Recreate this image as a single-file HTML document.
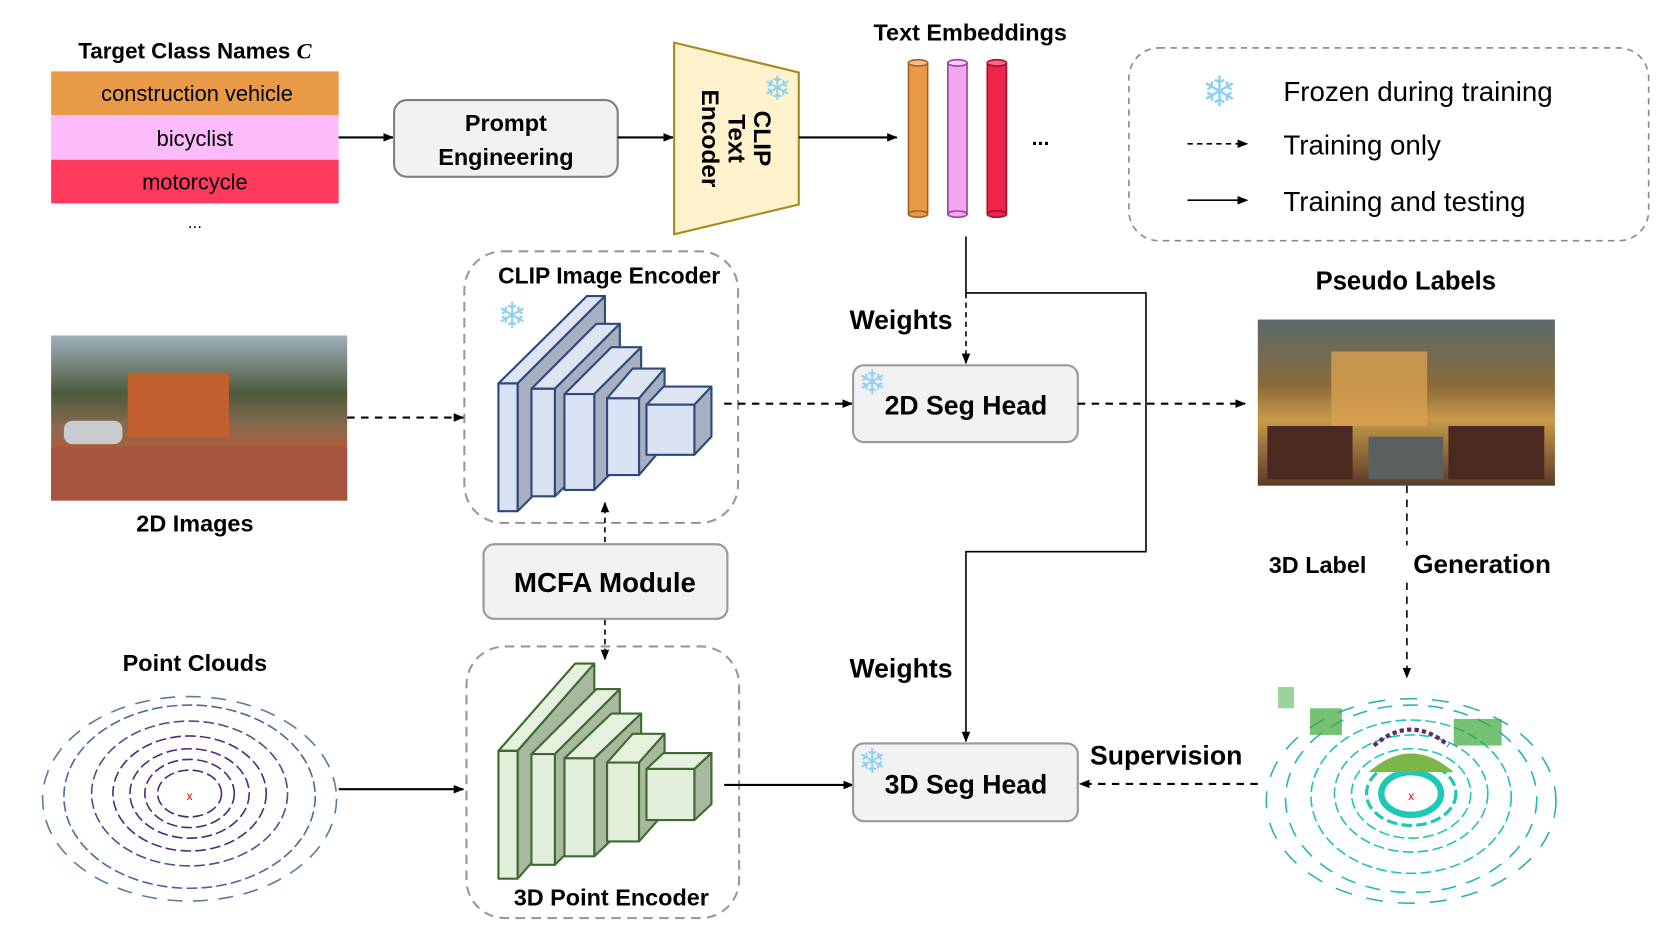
<!DOCTYPE html>
<html><head><meta charset="utf-8"><style>
html,body{margin:0;padding:0;background:#fff;}
svg{display:block;}
text{font-family:"Liberation Sans",sans-serif;}
.b{font-weight:bold;}
</style></head><body>
<svg width="1661" height="933" viewBox="0 0 1559.6 876" preserveAspectRatio="none" xmlns="http://www.w3.org/2000/svg">
<defs>
<marker id="ah" markerWidth="10" markerHeight="10" refX="9" refY="5" orient="auto" markerUnits="userSpaceOnUse">
<path d="M0,1 L10,5 L0,9 Z" fill="#000"/></marker>
<linearGradient id="img2d" x1="0" y1="0" x2="0" y2="1">
<stop offset="0" stop-color="#9fb0bd"/><stop offset="0.35" stop-color="#4d5a3c"/><stop offset="0.55" stop-color="#8a6a50"/><stop offset="0.7" stop-color="#b15b35"/><stop offset="1" stop-color="#8c4a38"/></linearGradient>
<linearGradient id="imgps" x1="0" y1="0" x2="0" y2="1">
<stop offset="0" stop-color="#5a6a6a"/><stop offset="0.4" stop-color="#8a6a3a"/><stop offset="0.6" stop-color="#c89a4a"/><stop offset="1" stop-color="#5a3a2a"/></linearGradient>
</defs>

<!-- Target class names -->
<text x="183" y="55" text-anchor="middle" font-size="21" class="b">Target Class Names <tspan font-style="italic" font-family="Liberation Serif">C</tspan></text>
<rect x="48" y="67" width="270" height="41" fill="#e99a47"/>
<rect x="48" y="108" width="270" height="42" fill="#fcbcfb"/>
<rect x="48" y="150" width="270" height="41" fill="#fd3a5e"/>
<text x="185" y="95" text-anchor="middle" font-size="20.5">construction vehicle</text>
<text x="183" y="137" text-anchor="middle" font-size="20.5">bicyclist</text>
<text x="183" y="178" text-anchor="middle" font-size="20.5">motorcycle</text>
<text x="183" y="214" text-anchor="middle" font-size="16">...</text>

<line x1="318" y1="129" x2="369" y2="129" stroke="#000" stroke-width="2" marker-end="url(#ah)"/>
<rect x="370" y="94" width="210" height="72" rx="12" fill="#f2f2f2" stroke="#808080" stroke-width="2"/>
<text x="475" y="123" text-anchor="middle" font-size="22" class="b">Prompt</text>
<text x="475" y="155" text-anchor="middle" font-size="22" class="b">Engineering</text>
<line x1="580" y1="129" x2="632" y2="129" stroke="#000" stroke-width="2" marker-end="url(#ah)"/>

<!-- CLIP text encoder trapezoid -->
<polygon points="633,40 750,68 750,192 633,220" fill="#fff2cc" stroke="#a88a1e" stroke-width="2"/>
<g transform="translate(690,130) rotate(90)">
<text x="0" y="-18" text-anchor="middle" font-size="23" class="b">CLIP</text>
<text x="0" y="6" text-anchor="middle" font-size="23" class="b">Text</text>
<text x="0" y="31" text-anchor="middle" font-size="23" class="b">Encoder</text>
</g>
<text x="730" y="94" text-anchor="middle" font-size="32" fill="#8fd0f5">❄</text>
<line x1="750" y1="129" x2="842" y2="129" stroke="#000" stroke-width="2" marker-end="url(#ah)"/>

<!-- Text embeddings -->
<text x="911" y="38" text-anchor="middle" font-size="22" class="b">Text Embeddings</text>
<g stroke-width="1.5">
<rect x="853" y="59" width="18" height="142" fill="#e99a47" stroke="#a0602a"/>
<ellipse cx="862" cy="59" rx="9" ry="3" fill="#f4bf85" stroke="#a0602a"/>
<ellipse cx="862" cy="201" rx="9" ry="3" fill="#e99a47" stroke="#a0602a"/>
<rect x="890" y="59" width="18" height="142" fill="#f2a6f2" stroke="#9a40a0"/>
<ellipse cx="899" cy="59" rx="9" ry="3" fill="#fcd0fb" stroke="#9a40a0"/>
<ellipse cx="899" cy="201" rx="9" ry="3" fill="#f2a6f2" stroke="#9a40a0"/>
<rect x="927" y="59" width="18" height="142" fill="#ef2448" stroke="#a01030"/>
<ellipse cx="936" cy="59" rx="9" ry="3" fill="#f76a84" stroke="#a01030"/>
<ellipse cx="936" cy="201" rx="9" ry="3" fill="#ef2448" stroke="#a01030"/>
</g>
<text x="977" y="136" text-anchor="middle" font-size="20" class="b">...</text>

<!-- Legend -->
<rect x="1060" y="45" width="488" height="181" rx="28" fill="none" stroke="#888" stroke-width="1.5" stroke-dasharray="6,5"/>
<text x="1145" y="100" text-anchor="middle" font-size="40" fill="#8fd0f5">❄</text>
<text x="1205" y="95" font-size="26">Frozen during training</text>
<line x1="1115" y1="135" x2="1171" y2="135" stroke="#000" stroke-width="1.5" stroke-dasharray="5,4" marker-end="url(#ah)"/>
<text x="1205" y="145" font-size="26">Training only</text>
<line x1="1115" y1="188" x2="1171" y2="188" stroke="#000" stroke-width="1.5" marker-end="url(#ah)"/>
<text x="1205" y="198" font-size="26">Training and testing</text>

<!-- CLIP Image Encoder -->
<rect x="436" y="236" width="257" height="255" rx="36" fill="none" stroke="#999" stroke-width="2" stroke-dasharray="9,6"/>
<text x="572" y="266" text-anchor="middle" font-size="21.5" class="b">CLIP Image Encoder</text>
<text x="481" y="308" text-anchor="middle" font-size="34" fill="#8fd0f5">❄</text>
<g stroke="#2f4a7a" stroke-width="2" stroke-linejoin="round">
<polygon points="468,360 551,278 568,278 486,360" fill="#dde5f3"/>
<polygon points="486,360 568,278 568,398 486,480" fill="#a6b0c0"/>
<rect x="468" y="360" width="18" height="120" fill="#dae3f3"/>
<polygon points="499,365 560,304 582,304 521,365" fill="#dde5f3"/>
<polygon points="521,365 582,304 582,405 521,466" fill="#a6b0c0"/>
<rect x="499" y="365" width="22" height="101" fill="#dae3f3"/>
<polygon points="530,370 574,326 602,326 558,370" fill="#dde5f3"/>
<polygon points="558,370 602,326 602,416 558,460" fill="#a6b0c0"/>
<rect x="530" y="370" width="28" height="90" fill="#dae3f3"/>
<polygon points="570,374 594,346 624,346 600,374" fill="#dde5f3"/>
<polygon points="600,374 624,346 624,418 600,446" fill="#a6b0c0"/>
<rect x="570" y="374" width="30" height="72" fill="#dae3f3"/>
<polygon points="607,380 623,363 668,363 652,380" fill="#dde5f3"/>
<polygon points="652,380 668,363 668,410 652,427" fill="#a6b0c0"/>
<rect x="607" y="380" width="45" height="47" fill="#dae3f3"/>
</g>

<!-- 2D image -->
<rect x="48" y="315" width="278" height="155" fill="url(#img2d)"/>
<rect x="120" y="350" width="95" height="60" fill="#c0602f"/>
<rect x="48" y="420" width="278" height="50" fill="#a65440"/>
<rect x="60" y="395" width="55" height="22" rx="8" fill="#c8ccd0"/>
<text x="183" y="499" text-anchor="middle" font-size="22" class="b">2D Images</text>
<line x1="326" y1="392" x2="435" y2="392" stroke="#000" stroke-width="2" stroke-dasharray="7,6" marker-end="url(#ah)"/>

<line x1="680" y1="379" x2="800" y2="379" stroke="#000" stroke-width="2" stroke-dasharray="7,6" marker-end="url(#ah)"/>
<rect x="801" y="343" width="211" height="72" rx="10" fill="#f2f2f2" stroke="#999" stroke-width="2"/>
<text x="907" y="389" text-anchor="middle" font-size="25" class="b">2D Seg Head</text>
<text x="819" y="370" text-anchor="middle" font-size="32" fill="#8fd0f5">❄</text>

<!-- weights lines -->
<polyline points="907,222 907,275 1076,275 1076,518 907,518 907,696" fill="none" stroke="#000" stroke-width="1.5" marker-end="url(#ah)"/>
<line x1="907" y1="275" x2="907" y2="341" stroke="#000" stroke-width="1.5" stroke-dasharray="5,4" marker-end="url(#ah)"/>
<text x="846" y="309" text-anchor="middle" font-size="25" class="b">Weights</text>
<text x="846" y="636" text-anchor="middle" font-size="25" class="b">Weights</text>

<!-- Pseudo labels -->
<text x="1320" y="272" text-anchor="middle" font-size="24" class="b">Pseudo Labels</text>
<rect x="1181" y="300" width="279" height="156" fill="url(#imgps)"/>
<rect x="1250" y="330" width="90" height="70" fill="#d8a050" opacity="0.8"/>
<rect x="1190" y="400" width="80" height="50" fill="#4a2a20"/>
<rect x="1360" y="400" width="90" height="50" fill="#4a2a20"/>
<rect x="1285" y="410" width="70" height="40" fill="#5a6060"/>
<line x1="1012" y1="379" x2="1169" y2="379" stroke="#000" stroke-width="2" stroke-dasharray="7,6" marker-end="url(#ah)"/>
<line x1="1321" y1="456" x2="1321" y2="636" stroke="#000" stroke-width="1.5" stroke-dasharray="7,6" marker-end="url(#ah)"/>
<rect x="1285" y="512" width="40" height="30" fill="#fff"/>
<text x="1283" y="538" text-anchor="end" font-size="22" class="b">3D Label</text>
<text x="1327" y="538" font-size="24.5" class="b">Generation</text>

<!-- MCFA -->
<rect x="454" y="511" width="229" height="70" rx="10" fill="#f2f2f2" stroke="#999" stroke-width="2"/>
<text x="568" y="556" text-anchor="middle" font-size="26" class="b">MCFA Module</text>
<line x1="568" y1="509" x2="568" y2="472" stroke="#000" stroke-width="1.5" stroke-dasharray="5,4" marker-end="url(#ah)"/>
<line x1="568" y1="582" x2="568" y2="619" stroke="#000" stroke-width="1.5" stroke-dasharray="5,4" marker-end="url(#ah)"/>

<!-- 3D Point encoder -->
<rect x="438" y="607" width="256" height="255" rx="36" fill="none" stroke="#999" stroke-width="2" stroke-dasharray="9,6"/>
<text x="574" y="850" text-anchor="middle" font-size="22" class="b">3D Point Encoder</text>
<g stroke="#3d6b2f" stroke-width="2" stroke-linejoin="round">
<polygon points="468,705 540,623 558,623 486,705" fill="#e6f0df"/>
<polygon points="486,705 558,623 558,743 486,825" fill="#a9b9a0"/>
<rect x="468" y="705" width="18" height="120" fill="#e2efda"/>
<polygon points="499,708 560,647 582,647 521,708" fill="#e6f0df"/>
<polygon points="521,708 582,647 582,751 521,812" fill="#a9b9a0"/>
<rect x="499" y="708" width="22" height="104" fill="#e2efda"/>
<polygon points="530,712 574,670 602,670 558,712" fill="#e6f0df"/>
<polygon points="558,712 602,670 602,762 558,804" fill="#a9b9a0"/>
<rect x="530" y="712" width="28" height="92" fill="#e2efda"/>
<polygon points="570,716 594,689 624,689 600,716" fill="#e6f0df"/>
<polygon points="600,716 624,689 624,763 600,790" fill="#a9b9a0"/>
<rect x="570" y="716" width="30" height="74" fill="#e2efda"/>
<polygon points="607,722 623,707 668,707 652,722" fill="#e6f0df"/>
<polygon points="652,722 668,707 668,755 652,770" fill="#a9b9a0"/>
<rect x="607" y="722" width="45" height="48" fill="#e2efda"/>
</g>

<!-- Point clouds -->
<text x="183" y="630" text-anchor="middle" font-size="22" class="b">Point Clouds</text>
<g fill="none" stroke="#4a2a7a" stroke-width="1.5" stroke-dasharray="10,4">
<ellipse cx="178" cy="745" rx="30" ry="22"/>
<ellipse cx="178" cy="745" rx="42" ry="32"/>
<ellipse cx="178" cy="745" rx="56" ry="42"/>
<ellipse cx="178" cy="745" rx="72" ry="54"/>
<ellipse cx="178" cy="745" rx="92" ry="68" stroke="#5a4a8a"/>
<ellipse cx="178" cy="748" rx="118" ry="86" stroke="#4a6a9a"/>
<ellipse cx="178" cy="750" rx="138" ry="96" stroke="#5a7aa0" stroke-dasharray="14,10"/>
</g>
<ellipse cx="178" cy="745" rx="22" ry="16" fill="#fff"/>
<text x="178" y="751" text-anchor="middle" font-size="11" fill="#e00">x</text>
<line x1="318" y1="741" x2="435" y2="741" stroke="#000" stroke-width="2" marker-end="url(#ah)"/>

<line x1="680" y1="737" x2="801" y2="737" stroke="#000" stroke-width="2" marker-end="url(#ah)"/>
<rect x="801" y="698" width="211" height="73" rx="10" fill="#f2f2f2" stroke="#999" stroke-width="2"/>
<text x="907" y="745" text-anchor="middle" font-size="25" class="b">3D Seg Head</text>
<text x="819" y="726" text-anchor="middle" font-size="32" fill="#8fd0f5">❄</text>
<text x="1095" y="718" text-anchor="middle" font-size="25" class="b">Supervision</text>
<line x1="1181" y1="736" x2="1014" y2="736" stroke="#000" stroke-width="2" stroke-dasharray="7,6" marker-end="url(#ah)"/>

<!-- colored point cloud -->
<g fill="none" stroke-width="1.5" stroke-dasharray="10,4">
<ellipse cx="1325" cy="745" rx="28" ry="20" stroke="#1cc8b8" stroke-width="6" stroke-dasharray="none"/>
<ellipse cx="1325" cy="745" rx="42" ry="30" stroke="#1cc8b8" stroke-width="3"/>
<ellipse cx="1325" cy="745" rx="56" ry="42" stroke="#1cc8b8"/>
<ellipse cx="1325" cy="745" rx="72" ry="55" stroke="#20c0c0"/>
<ellipse cx="1325" cy="748" rx="94" ry="72" stroke="#20c0c0"/>
<ellipse cx="1325" cy="750" rx="118" ry="88" stroke="#20b8c0" stroke-dasharray="14,10"/>
<ellipse cx="1325" cy="752" rx="136" ry="96" stroke="#30b0b0" stroke-dasharray="16,14"/>
</g>
<path d="M1285,725 Q1325,690 1365,725 Z" fill="#7ab648"/>
<path d="M1290,700 Q1325,670 1360,700" fill="none" stroke="#5a2a6a" stroke-width="4" stroke-dasharray="4,3"/>
<g fill="#3aa83a"><rect x="1230" y="665" width="30" height="25" opacity="0.7"/><rect x="1365" y="675" width="45" height="25" opacity="0.7"/><rect x="1200" y="645" width="15" height="20" opacity="0.5"/></g>
<ellipse cx="1325" cy="745" rx="20" ry="14" fill="#fff"/>
<text x="1325" y="751" text-anchor="middle" font-size="11" fill="#e00">x</text>
</svg>
</body></html>
